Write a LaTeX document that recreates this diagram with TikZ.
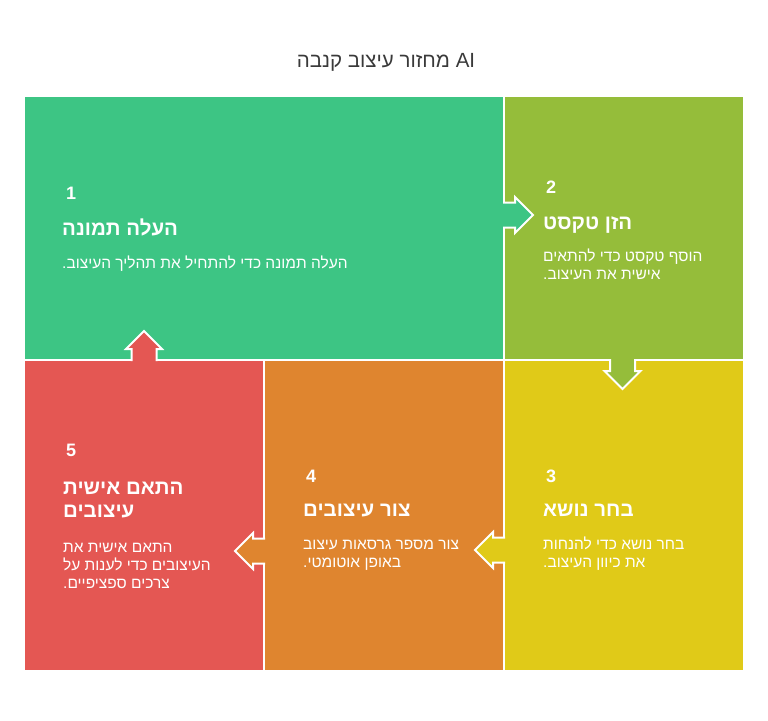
\documentclass[tikz,border=0pt]{standalone}
\usepackage{fontspec}
\TeXXeTstate=1
\newfontfamily\he[Script=Hebrew]{Liberation Sans}
\definecolor{cgreen}{HTML}{3DC584}
\definecolor{colive}{HTML}{95BD3A}
\definecolor{cyellow}{HTML}{E0CA18}
\definecolor{corange}{HTML}{DF852F}
\definecolor{cred}{HTML}{E45753}
\definecolor{ctitle}{HTML}{3A3A3A}
\newcommand\bigarrowshape[3]{%
  \begin{scope}[shift={#2},rotate=#3]
    \fill[#1] (-1.6,-12.5) -- (11,-12.5) -- (11,-18) -- (29,0) -- (11,18) -- (11,12.5) -- (-1.6,12.5) -- cycle;
    \draw[white,line width=2pt,line join=miter] (-1,-12.5) -- (11,-12.5) -- (11,-18) -- (29,0) -- (11,18) -- (11,12.5) -- (-1,12.5);
  \end{scope}}
\begin{document}
\begin{tikzpicture}[x=1pt,y=-1pt,
  panel/.style={draw=white,line width=2pt,inner sep=0,outer sep=0},
  num/.style={anchor=base west,inner sep=0,text=white,font=\he\bfseries\fontsize{18}{22}\selectfont},
  head/.style={anchor=base west,inner sep=0,text=white,font=\he\bfseries\fontsize{20.5}{24}\selectfont},
  desc/.style={anchor=base west,inner sep=0,text=white,font=\he\fontsize{15.5}{18}\selectfont},
  ttl/.style={anchor=base,inner sep=0,text=ctitle,font=\he\fontsize{20.5}{24}\selectfont}]
\useasboundingbox (0,0) rectangle (768,720);
% panels
\path[panel,fill=cgreen] (24,96) rectangle (504,360) node[coordinate] (p1) {};
\path[panel,fill=colive] (504,96) rectangle (744,360) node[coordinate] (p2) {};
\path[panel,fill=cyellow] (504,360) rectangle (744,671) node[coordinate] (p3) {};
\path[panel,fill=corange] (264,360) rectangle (504,671) node[coordinate] (p4) {};
\path[panel,fill=cred] (24,360) rectangle (264,671) node[coordinate] (p5) {};
% arrows
\bigarrowshape{cgreen}{(504,215)}{0}
\bigarrowshape{colive}{(622.5,360)}{-90}
\bigarrowshape{cyellow}{(504,550)}{180}
\bigarrowshape{corange}{(264,551)}{180}
\bigarrowshape{cred}{(144,360)}{90}
% title
\node[ttl] (title) at (386,67) {\beginR AI מחזור עיצוב קנבה\endR};
% panel 1
\node[num] (n1) at (66,199) {1};
\node[head] (h1) at (62,235) {\beginR העלה תמונה\endR};
\node[desc] (d1) at (62,268) {\beginR העלה תמונה כדי להתחיל את תהליך העיצוב\kern0pt.\endR};
% panel 2
\node[num] (n2) at (546,193) {2};
\node[head] (h2) at (543,229) {\beginR הזן טקסט\endR};
\node[desc] (d2a) at (543,261) {\beginR הוסף טקסט כדי להתאים\endR};
\node[desc] (d2b) at (543,279) {\beginR אישית את העיצוב\kern0pt.\endR};
% panel 3
\node[num] (n3) at (546,482) {3};
\node[head] (h3) at (543,516) {\beginR בחר נושא\endR};
\node[desc] (d3a) at (543,549) {\beginR בחר נושא כדי להנחות\endR};
\node[desc] (d3b) at (543,567) {\beginR את כיוון העיצוב\kern0pt.\endR};
% panel 4
\node[num] (n4) at (306,482) {4};
\node[head] (h4) at (303,516) {\beginR צור עיצובים\endR};
\node[desc] (d4a) at (303,549) {\beginR צור מספר גרסאות עיצוב\endR};
\node[desc] (d4b) at (303,567) {\beginR באופן אוטומטי\kern0pt.\endR};
% panel 5
\node[num] (n5) at (66,456) {5};
\node[head] (h5a) at (63,494) {\beginR התאם אישית\endR};
\node[head] (h5b) at (63,517) {\beginR עיצובים\endR};
\node[desc] (d5a) at (63,552) {\beginR התאם אישית את\endR};
\node[desc] (d5b) at (63,570) {\beginR העיצובים כדי לענות על\endR};
\node[desc] (d5c) at (63,588) {\beginR צרכים ספציפיים\kern0pt.\endR};
\end{tikzpicture}
\end{document}
